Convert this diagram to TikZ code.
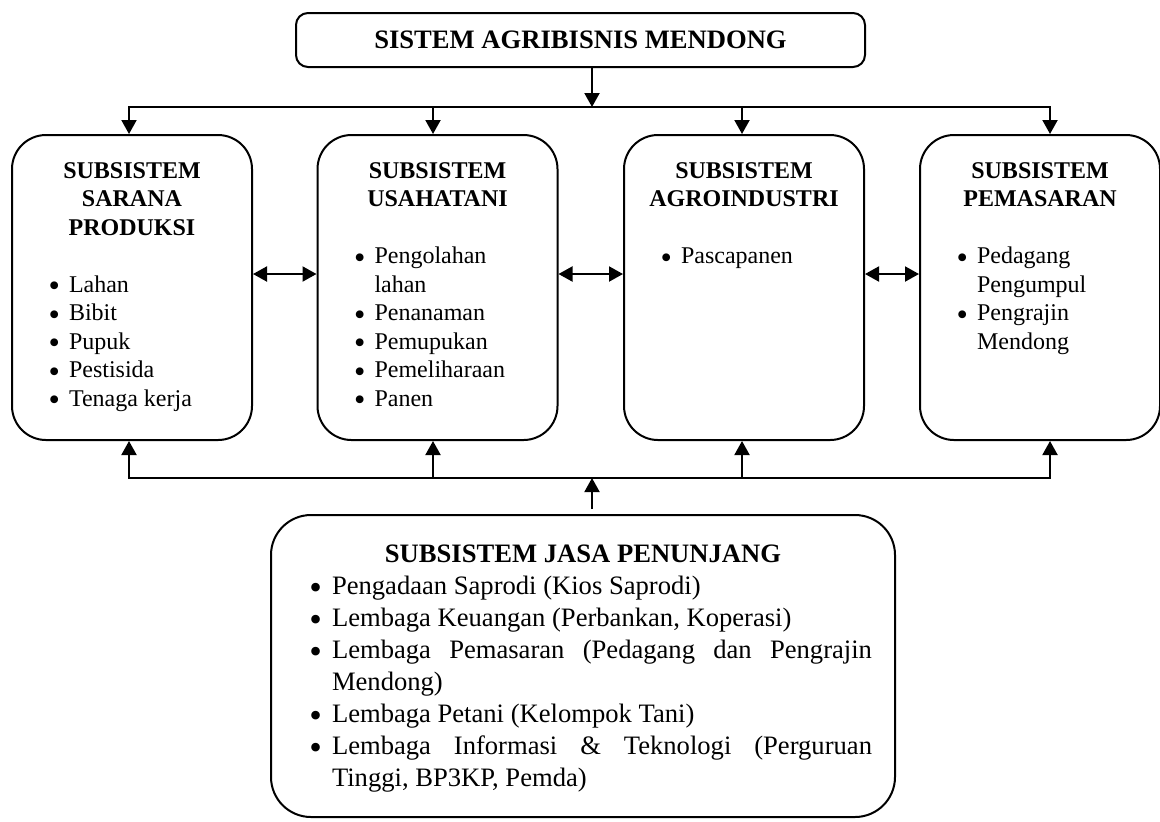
\documentclass[tikz,border=0pt]{standalone}
\usepackage{fontspec}
\setmainfont{Liberation Serif}
\usetikzlibrary{arrows.meta}

\newcommand{\titik}{\raisebox{-.19em}[0pt][0pt]{\scalebox{1.35}{\textbullet}}}
\newcommand{\subisi}[2]{\parbox[c][152.5pt][t]{120pt}{\fontsize{12}{14.25}\selectfont
{\centering\bfseries\rule{0pt}{21.5pt}#1\par}\vspace{14.25pt}%
\begin{list}{\titik}{\setlength{\leftmargin}{28.5pt}\setlength{\labelsep}{4.5pt}%
\setlength{\topsep}{0pt}\setlength{\partopsep}{0pt}\setlength{\itemsep}{0pt}\setlength{\parsep}{0pt}}%
\raggedright #2\end{list}}}

\begin{document}
\begin{tikzpicture}[x=.5pt, y=-.5pt, line width=1pt, >={Triangle[length=7pt,width=7.5pt]},
  atas/.style={draw, rounded corners=6pt, minimum width=284.5pt, minimum height=27pt,
    font=\fontsize{13.3}{16}\selectfont\bfseries},
  subkotak/.style={draw, rounded corners=17pt, inner sep=0pt},
  jasakotak/.style={draw, rounded corners=20pt, inner sep=0pt}]
\useasboundingbox (0,0) rectangle (1160,821);
\node[atas] (sistem) at (580.5,40) {SISTEM AGRIBISNIS MENDONG};
\node[subkotak] (sarana) at (132,287.5) {\subisi{SUBSISTEM\\SARANA\\PRODUKSI}{\item Lahan \item Bibit \item Pupuk \item Pestisida \item Tenaga kerja}};
\node[subkotak] (usahatani) at (437.5,287.5) {\subisi{SUBSISTEM\\USAHATANI}{\item Pengolahan\newline lahan \item Penanaman \item Pemupukan \item Pemeliharaan \item Panen}};
\node[subkotak] (agroind) at (744,287.5) {\subisi{SUBSISTEM\\AGROINDUSTRI}{\item Pascapanen}};
\node[subkotak] (pemasaran) at (1040,287.5) {\subisi{SUBSISTEM\\PEMASARAN}{\item Pedagang\newline Pengumpul \item Pengrajin\newline Mendong}};
\node[jasakotak] (jasa) at (583,666) {\parbox[c][151pt][t]{312pt}{\fontsize{13.3}{16}\selectfont
{\centering\bfseries\rule{0pt}{23.5pt}SUBSISTEM JASA PENUNJANG\par}%
\begin{list}{\titik}{\setlength{\leftmargin}{30.5pt}\setlength{\rightmargin}{11.5pt}\setlength{\labelsep}{5pt}%
\setlength{\topsep}{0pt}\setlength{\partopsep}{0pt}\setlength{\itemsep}{0pt}\setlength{\parsep}{0pt}}
\item Pengadaan Saprodi (Kios Saprodi)
\item Lembaga Keuangan (Perbankan, Koperasi)
\item Lembaga Pemasaran (Pedagang dan Pengrajin\linebreak Mendong)
\item Lembaga Petani (Kelompok Tani)
\item Lembaga Informasi \& Teknologi (Perguruan\linebreak Tinggi, BP3KP, Pemda)
\end{list}}};
\coordinate (ta) at (592,107);
\coordinate (a1) at (129,107);
\coordinate (a2) at (433,107);
\coordinate (a3) at (742,107);
\coordinate (a4) at (1050,107);
\coordinate (tb) at (592,478);
\coordinate (b1) at (129,478);
\coordinate (b2) at (433,478);
\coordinate (b3) at (742,478);
\coordinate (b4) at (1050,478);
\draw[->] (sistem.south -| ta) -- (ta);
\draw[->] (a2) -- (a1) -- (a1 |- sarana.north);
\draw[->] (a2) -- (usahatani.north -| a2);
\draw[->] (a3) -- (agroind.north -| a3);
\draw[->] (a2) -- (a4) -- (a4 |- pemasaran.north);
\draw[->] (b2) -- (b1) -- (b1 |- sarana.south);
\draw[->] (b2) -- (usahatani.south -| b2);
\draw[->] (b3) -- (agroind.south -| b3);
\draw[->] (b2) -- (b4) -- (b4 |- pemasaran.south);
\draw[->, shorten <=2.5pt] (jasa.north -| tb) -- (tb);
\draw[<->] ([yshift=6.75pt]sarana.east) -- ([yshift=6.75pt]usahatani.west);
\draw[<->] ([yshift=6.75pt]usahatani.east) -- ([yshift=6.75pt]agroind.west);
\draw[<->] ([yshift=6.75pt]agroind.east) -- ([yshift=6.75pt]pemasaran.west);
\end{tikzpicture}
\end{document}
